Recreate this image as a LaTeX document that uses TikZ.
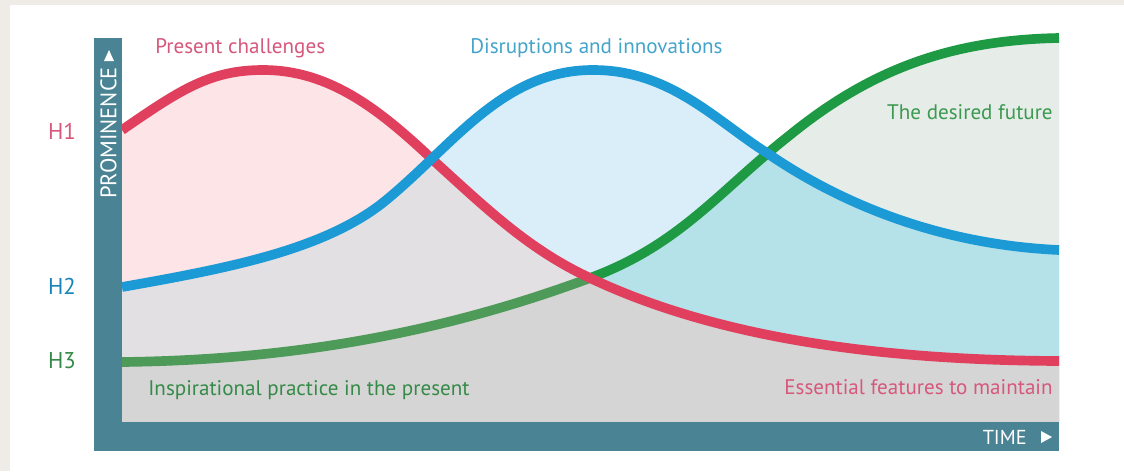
\documentclass[tikz,border=0pt]{standalone}
\usepackage{fontspec}
\setmainfont{PT Sans}

\definecolor{paper}{HTML}{EFEBE6}
\definecolor{barteal}{HTML}{4A8494}
\definecolor{redline}{HTML}{E0405E}
\definecolor{blueline}{HTML}{1C9AD6}
\definecolor{greenline}{HTML}{1E9A45}
\definecolor{greendull}{HTML}{4E9A58}
\definecolor{pinkfill}{HTML}{FDE4E7}
\definecolor{bluefill}{HTML}{D9EEF9}
\definecolor{greenfill}{HTML}{E6EDE9}
\definecolor{mixfill}{HTML}{E3E0E3}
\definecolor{cyanfill}{HTML}{B5E2E8}
\definecolor{grayfill}{HTML}{D5D5D5}
\definecolor{redtext}{HTML}{D6587C}
\definecolor{bluetext}{HTML}{45A4CB}
\definecolor{greentext}{HTML}{3C9950}

\tikzset{
  curve/.style={line width=5.5pt},
  lbl/.style={font=\fontsize{12}{14}\selectfont, inner sep=0pt},
  hlbl/.style={font=\fontsize{13}{15}\selectfont, inner sep=0pt},
  axislbl/.style={font=\fontsize{11.5}{13}\selectfont, text=white, inner sep=0pt}
}

% the three horizons
\def\redcurve{(122,130) .. controls (180,90) and (210,70) .. (263,70)
  .. controls (330,70) and (380,110) .. (433,160)
  .. controls (490,212) and (530,250) .. (590,278)
  .. controls (700,330) and (850,360) .. (1059,361)}
\def\bluecurve{(122,287) .. controls (230,268) and (320,250) .. (380,205)
  .. controls (450,150) and (500,70) .. (593,70)
  .. controls (670,70) and (715,120) .. (767,153)
  .. controls (850,210) and (950,245) .. (1059,250)}
\def\greenleft{(122,362) .. controls (300,360) and (450,330) .. (590,278)}
\def\greenright{.. controls (680,245) and (720,190) .. (790,135)
  .. controls (870,70) and (950,40) .. (1059,38)}
\def\toaxis{-- (1059,422) -- (122,422) -- cycle}

\begin{document}
\begin{tikzpicture}[x=0.02cm, y=-0.02cm]
  \useasboundingbox (0,0) rectangle (1124,471);
  \fill[paper] (0,0) rectangle (1124,471);
  \fill[white] (10,5) rectangle (1124,471);

  % areas under each curve
  \fill[pinkfill] \redcurve \toaxis;
  \fill[bluefill] \bluecurve \toaxis;
  \fill[greenfill] \greenleft \greenright \toaxis;

  % overlaps
  \begin{scope}
    \clip \bluecurve \toaxis;
    \fill[cyanfill] \greenleft \greenright \toaxis;
  \end{scope}
  \begin{scope}
    \clip \redcurve \toaxis;
    \fill[mixfill] \bluecurve \toaxis;
    \clip \greenleft \greenright \toaxis;
    \fill[grayfill] (122,0) rectangle (1059,422);
  \end{scope}

  % curves
  \draw[curve, greendull] \greenleft;
  \draw[curve, greenline] (590,278) \greenright;
  \draw[curve, redline] \redcurve;
  \draw[curve, blueline] \bluecurve;

  % axes
  \fill[barteal] (94,38) rectangle (122,451);
  \fill[barteal] (94,422) rectangle (1059,451);
  \node[axislbl, font=\fontsize{12.8}{14}\selectfont, rotate=90] (prominence) at (108.5,133) {PROMINENCE};
  \fill[white] (109,50) -- (114,61) -- (104,61) -- cycle;
  \node[axislbl, anchor=east] (time) at (1027,437) {TIME};
  \fill[white] (1041,431) -- (1052,437) -- (1041,443) -- cycle;

  % horizon marks
  \node[hlbl, text=redtext] (h1) at (62,131) {H1};
  \node[hlbl, text=blueline!85!black] (h2) at (62,286) {H2};
  \node[hlbl, text=greentext!90!black] (h3) at (62,361) {H3};

  % labels
  \node[lbl, text=redtext, anchor=base west] (challenges) at (155,53) {Present challenges};
  \node[lbl, text=bluetext, anchor=base west] (disruptions) at (470,53) {Disruptions and innovations};
  \node[lbl, text=greentext, anchor=base east] (future) at (1053,119) {The desired future};
  \node[lbl, text=greentext!90!black, anchor=base west] (practice) at (148,395) {Inspirational practice in the present};
  \node[lbl, text=redtext, anchor=base east] (features) at (1053,394) {Essential features to maintain};
\end{tikzpicture}
\end{document}
